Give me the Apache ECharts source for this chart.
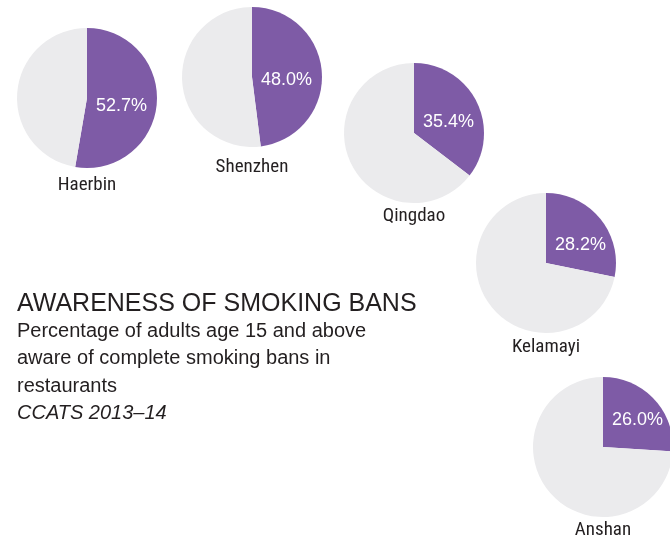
<!DOCTYPE html>
<html>
<head>
<meta charset="utf-8">
<script src="https://cdn.jsdelivr.net/npm/echarts@6/dist/echarts.min.js"></script>
<style>
  html, body { margin: 0; padding: 0; background: #ffffff; }
  #chart { width: 670px; height: 543px; }
</style>
</head>
<body>
<div id="chart"></div>
<script>
// City names and share of adults aware of complete smoking bans in restaurants (%)
const cities = ['Haerbin', 'Shenzhen', 'Qingdao', 'Kelamayi', 'Anshan'];
const awareness = [52.7, 48.0, 35.4, 28.2, 26.0];

const titleText = 'AWARENESS OF SMOKING BANS';
const subtitleLines = [
  'Percentage of adults age 15 and above',
  'aware of complete smoking bans in',
  'restaurants'
];
const sourceText = 'CCATS 2013\u201314';

// Placement of each pie on the page: centre, and vertical shift of the value label
const pieLayout = [
  { cx: 87,  cy: 98,  labelDy: 8,   nameY: 185 },
  { cx: 252, cy: 77,  labelDy: 3,   nameY: 167 },
  { cx: 414, cy: 133, labelDy: -11, nameY: 216 },
  { cx: 546, cy: 263, labelDy: -18, nameY: 347 },
  { cx: 603, cy: 447, labelDy: -27, nameY: 530 }
];
const RADIUS = 70;
const PURPLE = '#7e5ba6';
const GREY = '#ebebed';
const TEXT = '#231f20';

const chart = echarts.init(document.getElementById('chart'), null, { renderer: 'canvas' });

const series = cities.map((city, i) => {
  const pos = pieLayout[i];
  return {
    type: 'pie',
    name: city,
    center: [pos.cx, pos.cy],
    radius: RADIUS,
    startAngle: 90,
    clockwise: true,
    silent: true,
    animation: false,
    labelLine: { show: false },
    labelLayout: function () {
      return {
        x: pos.cx + 9,
        y: pos.cy + pos.labelDy,
        align: 'left',
        verticalAlign: 'middle'
      };
    },
    data: [
      {
        value: awareness[i],
        itemStyle: { color: PURPLE },
        label: {
          show: true,
          position: 'inside',
          formatter: (p) => p.value.toFixed(1) + '%',
          color: '#ffffff',
          fontFamily: 'Liberation Sans, Arial, sans-serif',
          fontSize: 18
        }
      },
      {
        value: +(100 - awareness[i]).toFixed(1),
        itemStyle: { color: GREY },
        label: { show: false }
      }
    ]
  };
});

const graphics = [];
cities.forEach((city, i) => {
  graphics.push({
    type: 'text',
    x: pieLayout[i].cx,
    y: pieLayout[i].nameY,
    silent: true,
    style: {
      text: city,
      align: 'center',
      verticalAlign: 'middle',
      fill: TEXT,
      font: '19px "Liberation Sans Narrow", "Roboto Condensed", "DejaVu Sans Condensed", sans-serif'
    }
  });
});

graphics.push({
  type: 'text',
  x: 17,
  y: 304,
  silent: true,
  style: {
    text: titleText,
    align: 'left',
    verticalAlign: 'middle',
    fill: TEXT,
    font: '25px "Liberation Sans", Arial, sans-serif'
  }
});

subtitleLines.forEach((line, k) => {
  graphics.push({
    type: 'text',
    x: 17,
    y: 331 + k * 27.5,
    silent: true,
    style: {
      text: line,
      align: 'left',
      verticalAlign: 'middle',
      fill: TEXT,
      font: '20px "Liberation Sans", Arial, sans-serif'
    }
  });
});

graphics.push({
  type: 'text',
  x: 17,
  y: 331 + 3 * 27.5,
  silent: true,
  style: {
    text: sourceText,
    align: 'left',
    verticalAlign: 'middle',
    fill: TEXT,
    font: 'italic 20px "Liberation Sans", Arial, sans-serif'
  }
});

chart.setOption({
  backgroundColor: '#ffffff',
  animation: false,
  series: series,
  graphic: graphics
});
</script>
</body>
</html>
